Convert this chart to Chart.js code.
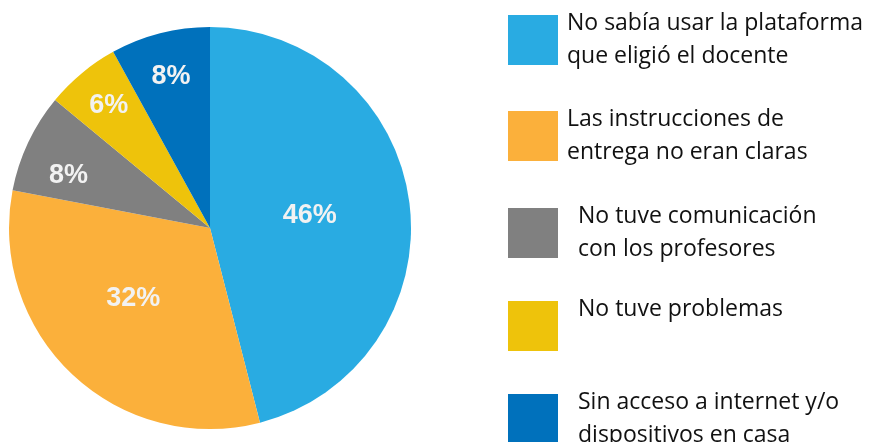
<!DOCTYPE html>
<html>
<head>
<meta charset="utf-8">
<script src="https://cdn.jsdelivr.net/npm/chart.js@4"></script>
<style>
  html, body { margin: 0; padding: 0; background: #fff; }
  #wrap { position: relative; width: 869px; height: 442px; overflow: hidden; }
  #pieBox { position: absolute; left: 0; top: 0; width: 420px; height: 442px; }
  #legend { position: absolute; left: 0; top: 0; width: 869px; height: 442px; font-family: "Open Sans", sans-serif; color: #111; }
  .box { position: absolute; width: 50px; height: 50px; }
  .txt { position: absolute; font-size: 23px; line-height: 33px; white-space: nowrap; }
</style>
</head>
<body>
<div id="wrap">
  <div id="pieBox"><canvas id="pie"></canvas></div>
  <div id="legend"></div>
</div>
<script>
const labels = [
  "No sabía usar la plataforma\nque eligió el docente",
  "Las instrucciones de\nentrega no eran claras",
  "No tuve comunicación\ncon los profesores",
  "No tuve problemas",
  "Sin acceso a internet y/o\ndispositivos en casa"
];
const values = [46, 32, 8, 6, 8];
const colors = ["#29abe2", "#fbb03b", "#808080", "#eec30b", "#0071bc"];

// legend layout (box top, text left)
const legendBoxTop = [15, 111, 208, 301, 394];
const legendTextLeft = [567, 567, 578, 578, 578];
// label placement: fraction of radius and angle nudge (degrees)
const labelRadius = [0.5, 0.52, 0.75, 0.79, 0.78];
const labelNudge = [0, 4, -5, 0, 0];

const legend = document.getElementById("legend");
labels.forEach((lab, i) => {
  const b = document.createElement("div");
  b.className = "box";
  b.style.left = "508px";
  b.style.top = legendBoxTop[i] + "px";
  b.style.background = colors[i];
  legend.appendChild(b);
  const t = document.createElement("div");
  t.className = "txt";
  t.style.left = legendTextLeft[i] + "px";
  t.style.top = (legendBoxTop[i] - 10) + "px";
  t.innerHTML = lab.replace("\n", "<br>");
  legend.appendChild(t);
});

const pctLabels = {
  id: "pctLabels",
  afterDatasetsDraw(chart) {
    const ctx = chart.ctx;
    const meta = chart.getDatasetMeta(0);
    ctx.save();
    ctx.font = "bold 27px 'Liberation Sans', Arial, sans-serif";
    ctx.fillStyle = "#f2f2f2";
    ctx.textAlign = "center";
    ctx.textBaseline = "middle";
    meta.data.forEach((arc, i) => {
      const mid = (arc.startAngle + arc.endAngle) / 2 + labelNudge[i] * Math.PI / 180;
      const r = arc.outerRadius * labelRadius[i];
      ctx.fillText(values[i] + "%", arc.x + Math.cos(mid) * r, arc.y + Math.sin(mid) * r);
    });
    ctx.restore();
  }
};

new Chart(document.getElementById("pie").getContext("2d"), {
  type: "pie",
  data: {
    labels: labels,
    datasets: [{
      data: values,
      backgroundColor: colors,
      borderWidth: 0
    }]
  },
  options: {
    responsive: true,
    maintainAspectRatio: false,
    animation: false,
    layout: { padding: { left: 9, right: 9, top: 27, bottom: 13 } },
    plugins: {
      legend: { display: false },
      tooltip: { enabled: false }
    }
  },
  plugins: [pctLabels]
});
</script>
</body>
</html>
